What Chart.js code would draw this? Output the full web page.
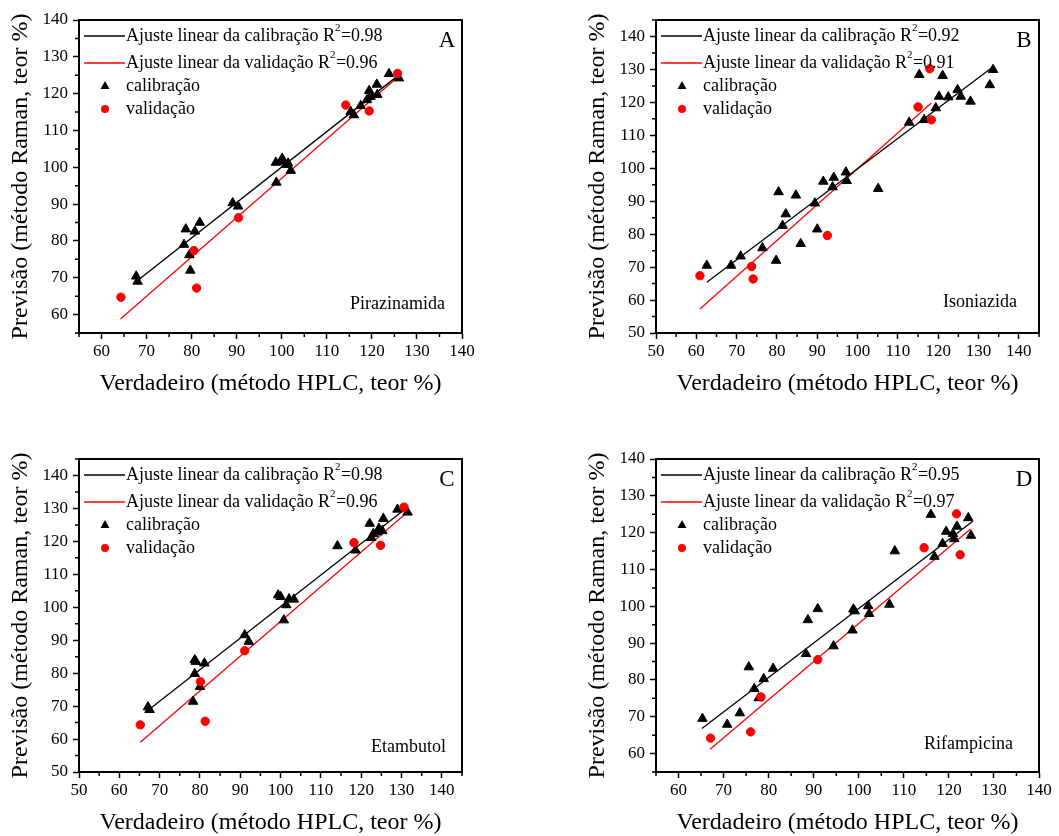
<!DOCTYPE html>
<html>
<head>
<meta charset="utf-8">
<title>Previsão Raman x HPLC</title>
<script src="https://cdn.jsdelivr.net/npm/chart.js@4.4.1/dist/chart.umd.min.js"></script>
<style>
body{margin:0;background:#fff;}
#wrap{position:relative;width:1059px;height:836px;background:#fff;}
canvas{position:absolute;}
</style>
</head>
<body>
<div id="wrap">
<canvas id="cA" width="530" height="418" style="left:0;top:0"></canvas>
<canvas id="cB" width="529" height="418" style="left:530px;top:0"></canvas>
<canvas id="cC" width="530" height="418" style="left:0;top:418px"></canvas>
<canvas id="cD" width="529" height="418" style="left:530px;top:418px"></canvas>
</div>
<script>
// ---- valores ----
// A - Pirazinamida
var calA = [[67.7,70.4],[68.0,69.0],[78.3,79.0],[78.7,83.2],[80.7,82.6],[81.8,85.0],[79.5,76.2],[79.7,72.0],
	[89.1,90.3],[90.3,89.4],[98.7,101.3],[98.8,95.9],[100.1,102.4],[100.3,101.6],[100.9,100.7],[101.4,101.1],
	[102.0,99.1],[115.3,115.1],[116.0,114.2],[117.5,116.7],[118.9,118.3],[119.4,120.8],[119.7,119.2],
	[121.2,119.7],[121.1,122.5],[123.8,125.4],[126.0,124.2]];
var valA = [[64.3,64.7],[80.5,77.4],[81.1,67.2],[90.4,86.3],[114.2,116.9],[119.4,115.3],[125.7,125.5]];
var fitCalA = [[67.5,68.8],[126.0,125.1]];
var fitValA = [[64.2,58.8],[126.0,124.8]];

// B - Isoniazida
var calB = [[62.6,70.5],[68.6,70.5],[71.0,73.3],[76.4,75.8],[79.8,72.0],[80.4,92.8],[81.4,82.6],[82.2,86.1],
	[84.7,91.8],[85.9,77.1],[89.4,89.4],[90.0,81.5],[91.5,96.0],[93.8,94.3],[94.1,97.2],[97.1,98.8],
	[97.3,96.2],[105.1,93.8],[112.8,113.9],[115.3,128.4],[116.5,114.7],[119.4,118.3],[120.2,121.8],
	[121.1,128.1],[122.5,121.6],[124.8,123.8],[125.6,121.8],[128.0,120.3],[132.8,125.3],[133.6,129.9]];
var valB = [[60.9,67.4],[73.7,70.2],[74.1,66.4],[92.5,79.6],[115.0,118.6],[117.9,130.2],[118.3,114.7]];
var fitCalB = [[62.6,65.4],[133.2,130.4]];
var fitValB = [[60.9,57.3],[118.3,119.8]];

// C - Etambutol
var calC = [[67.1,69.7],[67.5,68.9],[78.3,71.4],[78.7,79.8],[78.7,84.0],[79.0,83.5],[80.0,75.9],[81.1,83.0],
	[91.1,91.6],[92.1,89.6],[99.4,103.7],[100.0,103.2],[100.8,96.1],[101.4,100.7],[102.1,102.5],[103.3,102.4],
	[114.1,118.6],[118.6,117.3],[122.1,125.4],[122.5,121.1],[123.0,122.3],[124.0,122.8],[124.4,123.9],
	[125.2,123.2],[125.5,126.9],[129.0,129.7],[131.5,128.8]];
var valC = [[65.2,64.3],[80.1,77.4],[81.3,65.4],[91.1,86.8],[118.2,119.6],[124.8,118.8],[130.6,130.4]];
var fitCalC = [[67.3,68.9],[131.0,129.9]];
var fitValC = [[65.2,59.0],[131.0,128.4]];

// D - Rifampicina
var calD = [[65.3,69.5],[70.8,67.9],[73.6,71.0],[75.6,83.5],[76.8,77.6],[77.8,75.1],[78.9,80.3],[81.0,83.1],
	[88.3,87.1],[88.7,96.3],[90.9,99.3],[94.4,89.2],[98.6,93.5],[98.8,99.2],[99.1,98.7],[102.1,100.1],
	[102.3,98.0],[106.8,100.5],[108.0,115.0],[116.0,124.9],[116.8,113.5],[118.6,117.0],[119.4,120.3],
	[120.9,119.7],[121.2,118.3],[121.8,121.7],[124.3,124.0],[124.9,119.2]];
var valD = [[67.1,64.2],[76.0,65.9],[78.3,75.4],[90.9,85.5],[114.5,115.9],[121.7,125.1],[122.5,114.0]];
var fitCalD = [[65.2,66.8],[125.3,123.1]];
var fitValD = [[67.0,61.2],[124.8,121.0]];

// eixos
var ticks60 = [60,70,80,90,100,110,120,130,140];
var ticks50 = [50,60,70,80,90,100,110,120,130,140];
var rangeA = [55,140,55,140];
var rangeB = [50,145,50,145];
var rangeC = [50,145,50,145];
var rangeD = [55,140,55,140];

var letters = ['A','B','C','D'];
var drugs = ['Pirazinamida','Isoniazida','Etambutol','Rifampicina'];
var r2Cal = ['0.98','0.92','0.98','0.95'];
var r2Val = ['0.96','0.91','0.96','0.97'];
var legendTxt = ['Ajuste linear da calibração R','Ajuste linear da validação R','calibração','validação'];
var xTitle = 'Verdadeiro (método HPLC, teor %)';
var yTitle = 'Previsão (método Raman, teor %)';

var SERIF = '"Liberation Serif", "Times New Roman", serif';
Chart.defaults.font.family = SERIF;
Chart.defaults.color = '#000';

function pts(arr){
	return arr.map(function(p){ return {x:p[0], y:p[1]}; });
}

// moldura, ticks menores, legenda e textos
var extras = {
	id:'extras',
	afterDraw:function(chart){
		var o = chart.options.plugins.extras;
		var ctx = chart.ctx, a = chart.chartArea;
		var xs = chart.scales.x, ys = chart.scales.y;
		var i = o.idx, v;
		ctx.save();
		ctx.strokeStyle = '#000';
		// minor ticks
		ctx.lineWidth = 1.5;
		ctx.beginPath();
		for(v = xs.min; v <= xs.max; v += 5){
			if(v % 10 == 0) continue;
			var px = xs.getPixelForValue(v);
			ctx.moveTo(px, a.bottom); ctx.lineTo(px, a.bottom + 4);
		}
		for(v = ys.min; v <= ys.max; v += 5){
			if(v % 10 == 0) continue;
			var py = ys.getPixelForValue(v);
			ctx.moveTo(a.left, py); ctx.lineTo(a.left - 4, py);
		}
		ctx.stroke();
		// frame
		ctx.lineWidth = 2;
		ctx.strokeRect(a.left, a.top, a.right - a.left, a.bottom - a.top);

		// legenda
		var rows = [16,43,66,89];
		var ds = chart.data.datasets;
		ctx.textBaseline = 'middle';
		ctx.textAlign = 'left';
		for(var k = 0; k < 4; k++){
			var y = a.top + rows[k];
			var tx = a.left + 47;
			if(k < 2){
				ctx.strokeStyle = ds[k].borderColor;
				ctx.lineWidth = 1.3;
				ctx.beginPath();
				ctx.moveTo(a.left + 5, y); ctx.lineTo(a.left + 46, y);
				ctx.stroke();
				ctx.fillStyle = '#000';
				ctx.font = '18px ' + SERIF;
				ctx.fillText(legendTxt[k], tx, y);
				var w = ctx.measureText(legendTxt[k]).width;
				ctx.font = '11px ' + SERIF;
				ctx.fillText('2', tx + w, y - 8);
				ctx.font = '18px ' + SERIF;
				ctx.fillText('=' + (k == 0 ? r2Cal[i] : r2Val[i]), tx + w + 6, y);
			}else{
				ctx.fillStyle = ds[k].backgroundColor;
				ctx.beginPath();
				if(k == 2){
					ctx.moveTo(a.left + 26, y - 5);
					ctx.lineTo(a.left + 30.5, y + 3);
					ctx.lineTo(a.left + 21.5, y + 3);
					ctx.closePath();
				}else{
					ctx.arc(a.left + 26, y, 4, 0, Math.PI * 2);
				}
				ctx.fill();
				ctx.fillStyle = '#000';
				ctx.font = '18px ' + SERIF;
				ctx.fillText(legendTxt[k], tx, y);
			}
		}
		// letra do painel e nome do fármaco
		ctx.fillStyle = '#000';
		ctx.textAlign = 'center';
		ctx.font = '23px ' + SERIF;
		ctx.fillText(letters[i], a.right - 15, a.top + 21);
		ctx.textAlign = 'right';
		ctx.font = '18px ' + SERIF;
		ctx.fillText(drugs[i], a.right - o.drugDx, a.bottom - o.drugDy);
		ctx.restore();
	}
};

function makeChart(id, i, cal, val, fitCal, fitVal, xt, yt, rng, pad, drugPos){
	var ctx = document.getElementById(id).getContext('2d');
	var config = {
		type:'scatter',
		data:{
			datasets:[{
				label:'fitCal', data:pts(fitCal), showLine:true, borderColor:'#000', borderWidth:1.3,
				pointRadius:0, order:2
			},{
				label:'fitVal', data:pts(fitVal), showLine:true, borderColor:'#ff0000', borderWidth:1.3,
				pointRadius:0, order:2
			},{
				label:'calibração', data:pts(cal), pointStyle:'triangle', pointRadius:5.5,
				backgroundColor:'#000', borderColor:'#000', borderWidth:1, order:1
			},{
				label:'validação', data:pts(val), pointStyle:'circle', pointRadius:4.2,
				backgroundColor:'#ff0000', borderColor:'#ff0000', borderWidth:1, order:0
			}]
		},
		options:{
			responsive:false,
			animation:false,
			layout:{padding:pad},
			plugins:{
				legend:{display:false},
				tooltip:{enabled:false},
				extras:{idx:i, drugDx:drugPos[0], drugDy:drugPos[1]}
			},
			scales:{
				x:{
					type:'linear', min:rng[0], max:rng[1],
					afterBuildTicks:function(s){ s.ticks = xt.map(function(v){ return {value:v}; }); },
					afterFit:function(s){ s.height = 64; },
					grid:{drawOnChartArea:false, tickLength:6, tickWidth:1.5, tickColor:'#000'},
					border:{color:'#000', width:2},
					ticks:{font:{size:17}, padding:2, maxRotation:0, color:'#000'},
					title:{display:true, text:xTitle, font:{size:24, lineHeight:1.1}, padding:{top:0, bottom:0}, color:'#000'}
				},
				y:{
					type:'linear', min:rng[2], max:rng[3],
					afterBuildTicks:function(s){ s.ticks = yt.map(function(v){ return {value:v}; }); },
					afterFit:function(s){ s.width = 79; },
					grid:{drawOnChartArea:false, tickLength:6, tickWidth:1.5, tickColor:'#000'},
					border:{color:'#000', width:2},
					ticks:{font:{size:17}, padding:5, color:'#000'},
					title:{display:true, text:yTitle, font:{size:24, lineHeight:1.1}, padding:{top:8, bottom:0}, color:'#000'}
				}
			}
		},
		plugins:[extras]
	};
	return new Chart(ctx, config);
}

makeChart('cA', 0, calA, valA, fitCalA, fitValA, ticks60, ticks60, rangeA, {left:0, right:68, top:20, bottom:21}, [17,29]);
makeChart('cB', 1, calB, valB, fitCalB, fitValB, ticks50, ticks50, rangeB, {left:47, right:20, top:20, bottom:21}, [22,31]);
makeChart('cC', 2, calC, valC, fitCalC, fitValC, ticks50, ticks50, rangeC, {left:0, right:68, top:41, bottom:0}, [16,25]);
makeChart('cD', 3, calD, valD, fitCalD, fitValD, ticks60, ticks60, rangeD, {left:47, right:20, top:41, bottom:0}, [26,28]);
</script>
</body>
</html>
